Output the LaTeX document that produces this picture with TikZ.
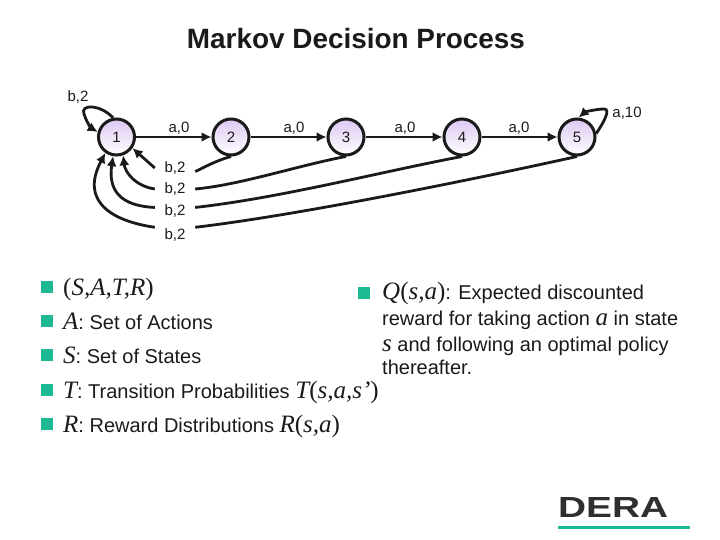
\documentclass[tikz,border=0pt]{standalone}
\usepackage{fontspec}
\setmainfont{Liberation Serif}
\setsansfont{Liberation Sans}
\usepackage{xcolor}
\usetikzlibrary{calc,arrows.meta}
\definecolor{stateLilac}{HTML}{DCC8F2}
\definecolor{bulletTeal}{HTML}{1DB995}
\definecolor{logoGrey}{HTML}{2F2F2F}
\definecolor{inkGrey}{HTML}{1A1A1A}
\newcommand{\symit}[1]{{\fontsize{25}{25}\selectfont\rmfamily\itshape #1}}
\newcommand{\symup}[1]{{\fontsize{25}{25}\selectfont\rmfamily #1}}
\tikzset{
  statenode/.style={circle, draw=inkGrey, line width=3pt, top color=stateLilac, bottom color=white, minimum size=36pt, inner sep=0pt, font=\sffamily\fontsize{15}{15}\selectfont, text=inkGrey},
  edgelabel/.style={font=\sffamily\fontsize{15}{15}\selectfont, text=inkGrey, inner sep=0pt, minimum height=15pt, minimum width=40pt},
  plainedge/.style={line width=2.8pt, draw=inkGrey},
  flowarrow/.style={-{Latex[length=10pt,width=10pt]}, line width=2.8pt, draw=inkGrey},
  bulletbox/.style={rectangle, fill=bulletTeal, minimum size=12pt, inner sep=0pt},
  bodytext/.style={font=\sffamily\fontsize{20}{20}\selectfont, text=inkGrey, anchor=base west, inner sep=0pt},
}
\begin{document}
\begin{tikzpicture}[x=1pt,y=-1pt]
      \useasboundingbox (0,0) rectangle (720,540);
      \node[font=\sffamily\bfseries\fontsize{27.9}{27.9}\selectfont, text=inkGrey] (title) at (356,39) {Markov Decision Process};

      \foreach \i/\x in {1/116.5,2/231,3/346,4/462,5/577} { \node[statenode] (n\i) at (\x,137) {\i}; }

      % forward edges
      \foreach \a/\b/\lx in {1/2/179,2/3/294,3/4/405,4/5/519} {
        \draw[flowarrow] (n\a) -- (n\b);
        \node[edgelabel] (top\a) at (\lx,128) {a,0};
      }

      % self loops
      \node[edgelabel] (loopb) at (78,97) {b,2};
      \node[edgelabel] (loopa) at (627,113) {a,10};
      \draw[flowarrow] (n1.100) .. controls (100,104) and (80,104) .. (84,114) .. controls (86,121) and (91,128) .. (n1.165);
      \draw[flowarrow] (n5.10) .. controls (604,122) and (611,109) .. (604,109) .. controls (597,109) and (585,112) .. (n5.85);

      % return edges
      \node[edgelabel] (back2) at (175,168) {b,2};
      \node[edgelabel] (back3) at (175,189) {b,2};
      \node[edgelabel] (back4) at (175,211) {b,2};
      \node[edgelabel] (back5) at (175,235) {b,2};

      \draw[plainedge] (n2.south) .. controls (215,161) and (205,167) .. (back2.-10);
      \draw[flowarrow] (back2.west) -- (n1.-35);
      \draw[plainedge] (n3.south) .. controls (300,165) and (240,185) .. (back3.east);
      \draw[flowarrow] (back3.west) .. controls (135,186) and (125,172) .. (n1.-70);
      \draw[plainedge] (n4.south) .. controls (380,172) and (280,198) .. (back4.10);
      \draw[flowarrow] (back4.170) .. controls (120,206) and (108,190) .. (n1.-100);
      \draw[plainedge] (n5.south) .. controls (480,178) and (300,215) .. (back5.north east);
      \draw[flowarrow] (back5.north west) .. controls (118,222) and (78,205) .. (n1.-125);

      % left column
      \foreach \b/\y in {a/287,b/321,c/355,d/390,e/424} { \node[bulletbox] (bullet\b) at (47,\y) {}; }
      \node[bodytext] (tuple) at (63,295) {\symup{(}\symit{S,A,T,R}\symup{)}};
      \node[bodytext] (actions) at (63,329) {\symit{A}: Set of Actions};
      \node[bodytext] (states) at (63,363) {\symit{S}: Set of States};
      \node[bodytext] (trans) at (63,398) {\symit{T}: Transition Probabilities \symit{T}\symup{(}\symit{s,a,s’}\symup{)}};
      \node[bodytext] (reward) at (63,432) {\symit{R}: Reward Distributions \symit{R}\symup{(}\symit{s,a}\symup{)}};

      % right column
      \node[bulletbox] (bulletq) at (364,293) {};
      \node[bodytext] (qline) at (382,299) {\symit{Q}\symup{(}\symit{s,a}\symup{)}: Expected discounted};
      \node[bodytext] (qlinea) at (382,325) {reward for taking action \symit{a} in state};
      \node[bodytext] (qlineb) at (382,351) {\symit{s} and following an optimal policy};
      \node[bodytext] (qlinec) at (382,374) {thereafter.};

      % logo
      \node[font=\sffamily\bfseries, text=logoGrey, anchor=base west, inner sep=0pt] (logo) at (558,517.5) {\resizebox{110pt}{20pt}{DERA}};
      \fill[bulletTeal] (558,525.5) rectangle (690,528.5);
\end{tikzpicture}
\end{document}
